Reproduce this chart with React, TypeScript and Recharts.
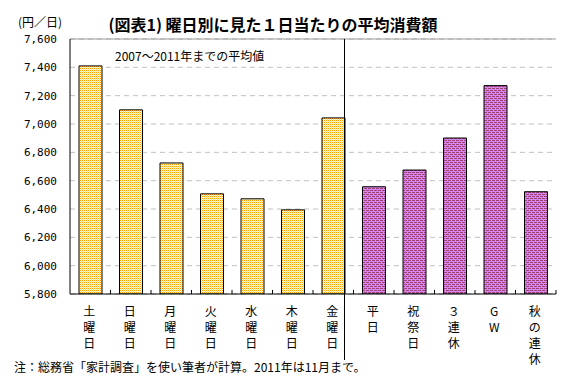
import React from "react";
import { BarChart, Bar, XAxis, YAxis, CartesianGrid, Cell, ReferenceLine } from "recharts";

const categories = ["土曜日", "日曜日", "月曜日", "火曜日", "水曜日", "木曜日", "金曜日", "平日", "祝祭日", "３連休", "GW", "秋の連休"];
const values = [7410, 7100, 6725, 6507, 6472, 6394, 7043, 6557, 6675, 6901, 7271, 6522];
const groups = ["weekday", "weekday", "weekday", "weekday", "weekday", "weekday", "weekday", "holiday", "holiday", "holiday", "holiday", "holiday"];
const yTicks = [5800, 6000, 6200, 6400, 6600, 6800, 7000, 7200, 7400, 7600];

const data = categories.map((c, i) => ({ name: c, value: values[i], group: groups[i] }));

const W = 578;
const H = 392;
const PLOT_LEFT = 70;
const PLOT_RIGHT = 556;
const BAND = (PLOT_RIGHT - PLOT_LEFT) / categories.length;

const JP = "'Noto Sans CJK JP', sans-serif";
const MONO = "'DejaVu Sans Mono', 'Noto Sans CJK JP', monospace";

const fmt = (v: number) => v.toLocaleString("en-US");

const XTick = (props: any) => {
  const { x, y, payload } = props;
  const label: string = payload.value;
  const chars = Array.from(label);
  return (
    <g>
      <line x1={x + BAND / 2} x2={x + BAND / 2} y1={y} y2={y - 4} stroke="#000" strokeWidth={1} />
      <text textAnchor="middle" fontSize={12} fontFamily={JP} fill="#000">
        {chars.map((ch, i) => (
          <tspan key={i} x={x - 1} y={y + 22 + i * 16}>
            {ch}
          </tspan>
        ))}
      </text>
    </g>
  );
};

export default function App() {
  return (
    <div style={{ position: "absolute", left: 0, top: 0, width: W, height: H, background: "#fff", fontFamily: JP }}>
      <BarChart
        width={W}
        height={H}
        data={data}
        margin={{ top: 39, right: 22, bottom: 28, left: 10 }}
        barCategoryGap={0}
      >
        <defs>
          <pattern id="patOrange" width="2" height="2" patternUnits="userSpaceOnUse">
            <rect width="2" height="2" fill="#FFFFCC" />
            <rect x="0" y="0" width="1" height="1" fill="#FF9900" />
            <rect x="1" y="1" width="1" height="1" fill="#FFE08A" />
          </pattern>
          <pattern id="patPurple" width="4" height="4" patternUnits="userSpaceOnUse">
            <rect width="4" height="4" fill="#D688F0" />
            <rect x="0" y="0" width="3" height="1" fill="#A0407A" />
            <rect x="2" y="2" width="2" height="1" fill="#A0407A" />
            <rect x="0" y="2" width="1" height="1" fill="#A0407A" />
          </pattern>
        </defs>
        <CartesianGrid vertical={false} stroke="#c0c0c0" strokeDasharray="5 4" />
        <ReferenceLine y={7600} stroke="#999" strokeWidth={1} />
        <XAxis
          dataKey="name"
          interval={0}
          height={70}
          stroke="#000"
          tickLine={false}
          tickSize={0}
          tickMargin={0}
          tick={<XTick />}
        />
        <YAxis
          domain={[5800, 7600]}
          ticks={yTicks}
          width={60}
          stroke="#000"
          tickLine={false}
          tickSize={8}
          tickMargin={5}
          tickFormatter={fmt}
          tick={{ fontSize: 11, fontFamily: MONO, fill: "#000" }}
          allowDataOverflow
        />
        <YAxis
          yAxisId="r"
          orientation="right"
          domain={[5800, 7600]}
          width={0}
          stroke="#999"
          tick={false}
          tickLine={false}
        />
        <Bar dataKey="value" barSize={23} stroke="#000" strokeWidth={1} isAnimationActive={false}>
          {data.map((d, i) => (
            <Cell key={i} fill={d.group === "weekday" ? "url(#patOrange)" : "url(#patPurple)"} />
          ))}
        </Bar>
      </BarChart>

      <div style={{ position: "absolute", left: 344, top: 39, width: 1, height: 321, background: "#000" }} />

      <div style={{ position: "absolute", left: 18, top: 14, fontSize: 12, lineHeight: "16px", whiteSpace: "nowrap" }}>
        (円／日)
      </div>
      <div
        style={{
          position: "absolute",
          left: 0,
          width: 546,
          top: 14,
          textAlign: "center",
          fontSize: 16,
          fontWeight: "bold",
          lineHeight: "20px",
          whiteSpace: "nowrap",
        }}
      >
        (図表1) 曜日別に見た１日当たりの平均消費額
      </div>
      <div style={{ position: "absolute", left: 115, top: 48, fontSize: 12, lineHeight: "16px", whiteSpace: "nowrap" }}>
        2007～2011年までの平均値
      </div>
      <div style={{ position: "absolute", left: 14, top: 359, fontSize: 12, lineHeight: "16px", whiteSpace: "nowrap" }}>
        注：総務省「家計調査」を使い筆者が計算。2011年は11月まで。
      </div>
    </div>
  );
}
